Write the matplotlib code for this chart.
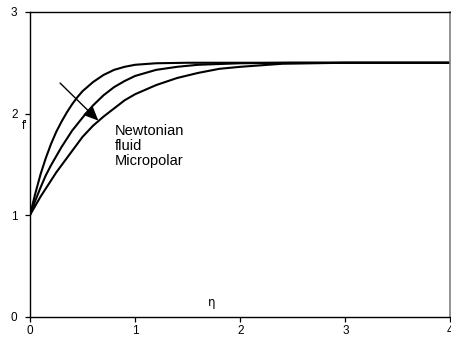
import matplotlib
matplotlib.use("Agg")
import matplotlib.pyplot as plt

plt.rcParams['font.family'] = ['Liberation Sans', 'DejaVu Sans']

eta_top = [0, 0.05, 0.1, 0.15, 0.2, 0.25, 0.3, 0.35, 0.4, 0.45, 0.5, 0.6, 0.7, 0.8, 0.9, 1.0, 1.2, 1.5, 2.0, 3.0, 4.0]
f_top = [1.00, 1.21, 1.40, 1.56, 1.70, 1.82, 1.92, 2.01, 2.09, 2.16, 2.22, 2.31, 2.38, 2.43, 2.46, 2.48, 2.495, 2.50, 2.50, 2.50, 2.50]

eta_mid = [0, 0.05, 0.1, 0.15, 0.2, 0.25, 0.3, 0.35, 0.4, 0.5, 0.6, 0.7, 0.8, 0.9, 1.0, 1.2, 1.4, 1.6, 2.0, 2.5, 3.0, 4.0]
f_mid = [1.00, 1.14, 1.27, 1.39, 1.49, 1.58, 1.67, 1.75, 1.83, 1.96, 2.08, 2.18, 2.26, 2.32, 2.37, 2.43, 2.46, 2.48, 2.495, 2.50, 2.50, 2.50]

eta_bot = [0, 0.05, 0.1, 0.15, 0.2, 0.25, 0.3, 0.35, 0.4, 0.5, 0.6, 0.7, 0.8, 0.9, 1.0, 1.2, 1.4, 1.6, 1.8, 2.0, 2.4, 3.0, 4.0]
f_bot = [1.00, 1.09, 1.18, 1.26, 1.34, 1.42, 1.49, 1.56, 1.63, 1.77, 1.88, 1.97, 2.05, 2.13, 2.19, 2.28, 2.35, 2.40, 2.44, 2.46, 2.49, 2.50, 2.50]

x_ticks = [0, 1, 2, 3, 4]
y_ticks = [0, 1, 2, 3]
legend_text = "Newtonian\nfluid\nMicropolar"

fig = plt.figure(figsize=(4.52, 3.41), dpi=100)
ax = fig.add_axes([30/452, 1 - 316.5/341, 420.5/452, 304.5/341])

for xs, ys in [(eta_top, f_top), (eta_mid, f_mid), (eta_bot, f_bot)]:
    ax.plot(xs, ys, color='black', lw=1.5, solid_capstyle='round')

ax.set_xlim(0, 4)
ax.set_ylim(0, 3)
ax.set_xticks(x_ticks)
ax.set_yticks(y_ticks)
ax.tick_params(axis='both', direction='out', length=3.5, width=0.9, labelsize=8.5, color='black')
ax.tick_params(axis='x', pad=2.5)
ax.tick_params(axis='y', pad=5.5)

for s in ['left', 'bottom', 'top']:
    ax.spines[s].set_color('black')
    ax.spines[s].set_linewidth(1.0)
ax.spines['right'].set_color('#808080')
ax.spines['right'].set_linewidth(1.2)

ax.annotate('', xy=(0.65, 1.93), xytext=(0.286, 2.30),
            arrowprops=dict(arrowstyle='-|>,head_length=0.9,head_width=0.4',
                            color='black', lw=1.0, shrinkA=0, shrinkB=0))

ax.text(0.81, 1.90, legend_text, ha='left', va='top', fontsize=10.5, linespacing=1.1)
ax.text(-0.052, 1.877, "f'", ha='center', va='center', fontsize=8.5, clip_on=False)
ax.text(1.729, 0.138, "η", ha='center', va='center', fontsize=8.5, family=['DejaVu Sans'])

fig.savefig('out.png', dpi=100)
